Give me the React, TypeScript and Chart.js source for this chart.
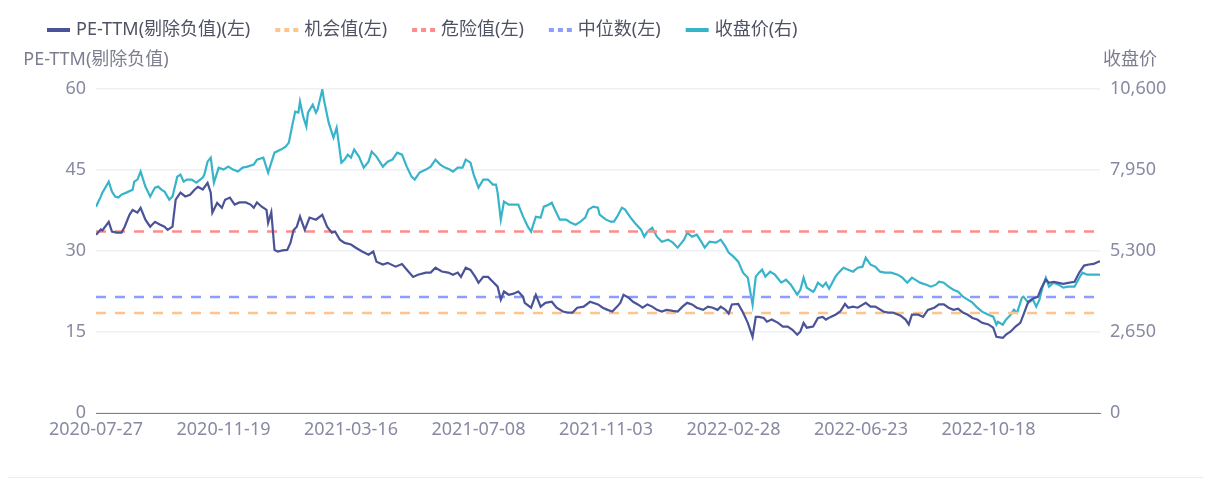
import React, { useEffect, useRef } from 'react';
import { Chart, registerables } from 'chart.js';

Chart.register(...registerables);

// ---- data ----
const tickDays = [0, 80, 160, 240, 320, 400, 480, 560];
const tickLabels = ['2020-07-27', '2020-11-19', '2021-03-16', '2021-07-08', '2021-11-03', '2022-02-28', '2022-06-23', '2022-10-18'];
const lastDay = 630;

const legendNames = ['PE-TTM(剔除负值)(左)', '机会值(左)', '危险值(左)', '中位数(左)', '收盘价(右)'];
const leftAxisName = 'PE-TTM(剔除负值)';
const rightAxisName = '收盘价';

const opportunityValue = 18.5;
const dangerValue = 33.6;
const medianValue = 21.5;

// [trading-day index, PE-TTM]
const pePoints: [number, number][] = [
  [0, 33.0], [3, 34.0], [4, 33.8], [8, 35.4], [10, 33.6], [13, 33.4], [16, 33.4], [18, 34.5], [21, 36.7], [23, 37.6],
  [26, 37.1], [28, 38.0], [31, 35.8], [34, 34.5], [37, 35.4], [40, 34.9], [43, 34.5], [45, 33.9], [48, 34.5], [50, 39.5],
  [53, 40.8], [56, 40.1], [59, 40.4], [62, 41.4], [64, 41.9], [67, 41.4], [70, 42.6], [72, 40.8], [73, 37.1], [76, 38.9],
  [79, 38.0], [81, 39.5], [84, 39.9], [87, 38.6], [90, 39.0], [94, 39.0], [97, 38.6], [99, 38.0], [101, 39.0], [104, 38.2],
  [107, 37.6], [108, 35.2], [110, 37.2], [112, 30.2], [114, 29.9], [117, 30.1], [120, 30.2], [122, 31.5], [124, 33.9], [126, 34.5],
  [128, 36.4], [131, 33.9], [134, 36.2], [138, 35.8], [142, 36.7], [145, 34.5], [148, 33.4], [150, 33.6], [153, 32.1], [156, 31.5],
  [160, 31.2], [163, 30.6], [167, 29.9], [171, 29.3], [174, 29.9], [176, 28.0], [180, 27.5], [183, 27.8], [188, 27.1], [192, 27.6],
  [196, 26.2], [199, 25.2], [202, 25.6], [207, 26.0], [210, 26.0], [213, 26.9], [217, 26.2], [221, 26.0], [224, 25.6], [227, 26.0],
  [229, 25.2], [232, 26.9], [235, 26.5], [238, 25.2], [240, 24.1], [243, 25.2], [246, 25.2], [249, 24.3], [252, 23.4], [254, 21.0],
  [256, 22.5], [259, 21.9], [262, 22.1], [265, 22.5], [268, 21.5], [269, 20.4], [273, 19.5], [276, 21.9], [279, 19.7], [282, 20.4],
  [286, 20.6], [289, 19.5], [293, 18.8], [296, 18.6], [299, 18.6], [302, 19.5], [306, 19.7], [310, 20.6], [315, 20.1], [318, 19.5],
  [321, 19.1], [324, 18.8], [327, 19.7], [329, 20.4], [331, 21.9], [334, 21.4], [337, 20.6], [340, 20.1], [343, 19.5], [346, 20.1],
  [349, 19.7], [352, 19.1], [355, 18.8], [358, 19.1], [362, 18.9], [365, 18.8], [368, 19.7], [371, 20.4], [374, 20.1], [377, 19.5],
  [381, 19.1], [384, 19.7], [387, 19.5], [390, 19.1], [392, 19.7], [395, 19.1], [397, 18.4], [399, 20.1], [403, 20.2], [406, 18.6],
  [409, 16.7], [412, 14.1], [414, 17.8], [416, 17.8], [419, 17.6], [421, 16.9], [424, 17.3], [428, 16.7], [431, 16.0], [434, 16.0],
  [437, 15.4], [440, 14.5], [442, 15.1], [444, 16.7], [446, 15.8], [450, 16.0], [453, 17.6], [456, 17.8], [458, 17.3], [461, 17.8],
  [464, 18.2], [467, 18.8], [470, 20.2], [472, 19.5], [475, 19.7], [478, 19.5], [483, 20.4], [486, 19.7], [489, 19.7], [494, 18.8],
  [497, 18.6], [500, 18.6], [505, 18.0], [508, 17.3], [510, 16.4], [512, 18.2], [516, 18.2], [519, 17.8], [522, 19.1], [526, 19.5],
  [529, 20.1], [532, 20.1], [535, 19.5], [538, 19.1], [541, 19.3], [544, 18.6], [547, 18.2], [550, 17.6], [553, 17.3], [556, 16.7],
  [560, 16.4], [563, 15.8], [565, 14.1], [569, 13.9], [571, 14.5], [574, 15.1], [577, 16.0], [580, 16.7], [582, 18.2], [585, 20.6],
  [588, 21.2], [591, 21.5], [593, 23.0], [596, 24.7], [598, 24.1], [601, 24.3], [604, 24.1], [607, 23.9], [610, 24.1], [614, 24.3],
  [617, 26.0], [620, 27.3], [623, 27.5], [626, 27.6], [629, 28.0], [630, 28.1],
];

// [trading-day index, close price]
const pricePoints: [number, number][] = [
  [0, 6750], [3, 7079], [4, 7210], [8, 7570], [10, 7243], [12, 7079], [14, 7047], [16, 7145], [19, 7210], [23, 7308],
  [24, 7570], [26, 7636], [28, 7898], [31, 7407], [34, 7079], [37, 7374], [39, 7407], [41, 7308], [43, 7243], [46, 6980],
  [48, 7079], [51, 7733], [53, 7799], [55, 7570], [57, 7636], [60, 7636], [63, 7537], [67, 7701], [68, 7799], [70, 8224],
  [72, 8355], [74, 7537], [77, 8028], [80, 7963], [83, 8061], [86, 7963], [89, 7898], [92, 8028], [95, 8061], [99, 8126],
  [101, 8289], [105, 8355], [108, 7865], [111, 8355], [112, 8518], [116, 8617], [119, 8715], [121, 8846], [123, 9369], [125, 9860],
  [127, 9827], [128, 10187], [130, 9696], [132, 9369], [133, 9827], [136, 10089], [138, 9827], [139, 9925], [142, 10580], [143, 10253],
  [146, 9500], [147, 9336], [149, 9009], [151, 9336], [154, 8191], [156, 8289], [158, 8453], [160, 8355], [162, 8617], [165, 8388],
  [168, 8028], [171, 8224], [173, 8551], [176, 8388], [180, 8061], [183, 8224], [186, 8289], [189, 8518], [192, 8453], [195, 8061],
  [198, 7733], [200, 7636], [203, 7865], [207, 7963], [210, 8061], [213, 8289], [216, 8126], [219, 8028], [222, 7963], [224, 7898],
  [227, 8028], [230, 8028], [232, 8289], [235, 8191], [237, 7799], [240, 7374], [243, 7636], [246, 7636], [249, 7472], [251, 7472],
  [252, 7210], [254, 6326], [256, 6914], [259, 6815], [262, 6815], [265, 6815], [268, 6423], [271, 6096], [273, 5932], [276, 6423],
  [279, 6390], [281, 6750], [284, 6815], [286, 6881], [288, 6652], [291, 6326], [295, 6326], [298, 6227], [301, 6161], [304, 6259],
  [307, 6390], [309, 6652], [312, 6750], [315, 6717], [316, 6488], [320, 6326], [323, 6259], [325, 6259], [327, 6423], [330, 6717],
  [332, 6652], [335, 6423], [338, 6227], [342, 5998], [344, 5769], [346, 5932], [349, 6063], [352, 5769], [355, 5605], [359, 5671],
  [362, 5573], [365, 5409], [369, 5671], [371, 5900], [374, 5769], [377, 5834], [379, 5671], [382, 5409], [385, 5605], [389, 5573],
  [392, 5671], [395, 5442], [397, 5246], [400, 5115], [403, 4951], [406, 4591], [409, 4427], [412, 3544], [414, 4460], [416, 4591],
  [418, 4689], [420, 4460], [423, 4623], [426, 4525], [430, 4264], [433, 4362], [436, 4198], [440, 3871], [442, 4034], [444, 4427],
  [446, 4100], [450, 3969], [451, 4034], [453, 4264], [456, 4133], [458, 4264], [460, 4067], [464, 4460], [466, 4591], [469, 4754],
  [472, 4689], [475, 4623], [478, 4754], [481, 4787], [483, 5082], [486, 4852], [489, 4787], [492, 4623], [495, 4591], [499, 4591],
  [503, 4525], [506, 4427], [509, 4264], [512, 4427], [516, 4296], [517, 4264], [521, 4198], [524, 4133], [527, 4198], [529, 4296],
  [532, 4264], [535, 4133], [538, 4034], [541, 3969], [544, 3806], [547, 3707], [550, 3609], [553, 3446], [556, 3315], [560, 3217],
  [563, 3151], [565, 2889], [566, 2987], [569, 2889], [571, 3053], [574, 3217], [576, 3380], [578, 3282], [581, 3773], [582, 3806],
  [585, 3609], [588, 3707], [590, 3478], [592, 3707], [594, 4133], [596, 4427], [598, 4133], [601, 4264], [604, 4198], [607, 4100],
  [610, 4133], [614, 4133], [617, 4427], [619, 4591], [622, 4525], [626, 4525], [629, 4525], [630, 4520],
];

const FONT = '"Noto Sans", "Noto Sans CJK SC", sans-serif';
const C_PE = '#4a5397';
const C_PRICE = '#38b4ca';
const C_OPP = '#ffc48c';
const C_DANGER = '#ff8c8c';
const C_MEDIAN = '#8c9cff';
const C_TICK = '#878aa2';
const C_LEGEND = '#4f5263';

export default function App() {
  const ref = useRef<HTMLCanvasElement | null>(null);

  useEffect(() => {
    if (!ref.current) return;
    const flat = (v: number) => [{ x: 0, y: v }, { x: lastDay, y: v }];
    const toXY = (pts: [number, number][]) => pts.map(([x, y]) => ({ x, y }));

    const legendPlugin = {
      id: 'customLegend',
      afterDraw(chart: any) {
        const ctx = chart.ctx as CanvasRenderingContext2D;
        ctx.save();
        ctx.font = `18px ${FONT}`;
        ctx.textBaseline = 'middle';
        ctx.textAlign = 'left';
        let x = 39;
        const y = 22;
        chart.data.datasets.forEach((ds: any) => {
          ctx.beginPath();
          ctx.strokeStyle = ds.borderColor;
          ctx.lineWidth = 4;
          ctx.lineCap = 'butt';
          ctx.setLineDash(ds.borderDash ? [5, 4] : []);
          ctx.moveTo(x, y);
          ctx.lineTo(x + 23, y);
          ctx.stroke();
          ctx.setLineDash([]);
          x += 29;
          ctx.fillStyle = C_LEGEND;
          ctx.fillText(ds.label, x, y);
          x += ctx.measureText(ds.label).width + 25;
        });
        ctx.fillStyle = '#7c7e90';
        ctx.textAlign = 'center';
        ctx.fillText(leftAxisName, chart.chartArea.left, 52);
        ctx.textAlign = 'left';
        ctx.fillText(rightAxisName, chart.chartArea.right + 3, 52);
        ctx.restore();
      },
    };

    const chart = new Chart(ref.current, {
      type: 'line',
      data: {
        datasets: [
          { label: legendNames[0], data: toXY(pePoints), borderColor: C_PE, borderWidth: 2.2, yAxisID: 'y' },
          { label: legendNames[1], data: flat(opportunityValue), borderColor: C_OPP, borderWidth: 2.5, borderDash: [10, 9], yAxisID: 'y' },
          { label: legendNames[2], data: flat(dangerValue), borderColor: C_DANGER, borderWidth: 2.5, borderDash: [10, 9], yAxisID: 'y' },
          { label: legendNames[3], data: flat(medianValue), borderColor: C_MEDIAN, borderWidth: 2.5, borderDash: [10, 9], yAxisID: 'y' },
          { label: legendNames[4], data: toXY(pricePoints), borderColor: C_PRICE, borderWidth: 2.2, yAxisID: 'y1' },
        ] as any,
      },
      options: {
        responsive: false,
        animation: false,
        devicePixelRatio: 1,
        layout: { padding: { top: 81, left: 0, right: 0, bottom: 0 } },
        elements: { point: { radius: 0 }, line: { tension: 0, fill: false } },
        font: { family: FONT, size: 18 } as any,
        plugins: { legend: { display: false }, tooltip: { enabled: false } },
        scales: {
          x: {
            type: 'linear',
            min: 0,
            max: lastDay,
            grid: { display: false, drawTicks: false },
            border: { display: true, color: '#777b9e', width: 1 },
            afterBuildTicks: (scale: any) => { scale.ticks = tickDays.map((v) => ({ value: v })); },
            afterFit: (scale: any) => { scale.height = 65; },
            ticks: {
              autoSkip: false,
              maxRotation: 0,
              padding: 6,
              color: C_TICK,
              font: { family: FONT, size: 18 },
              callback: (v: any) => { const i = tickDays.indexOf(Number(v)); return i >= 0 ? tickLabels[i] : ''; },
            },
          },
          y: {
            position: 'left',
            min: 0,
            max: 60,
            grid: { color: '#eef0f6', lineWidth: 1.5, drawTicks: false },
            border: { display: false },
            afterFit: (scale: any) => { scale.width = 88; },
            ticks: { stepSize: 15, padding: 10, color: C_TICK, font: { family: FONT, size: 18 } },
          },
          y1: {
            position: 'right',
            min: 0,
            max: 10600,
            grid: { display: false, drawOnChartArea: false, drawTicks: false },
            border: { display: false },
            afterFit: (scale: any) => { scale.width = 103; },
            ticks: { stepSize: 2650, padding: 10, color: C_TICK, font: { family: FONT, size: 18 } },
          },
        },
      } as any,
      plugins: [legendPlugin],
    });
    return () => chart.destroy();
  }, []);

  return (
    <div style={{ width: 1211, height: 470, marginLeft: -8, paddingLeft: 8, boxSizing: 'border-box', borderBottom: '1px solid #ebecf3' }}>
      <canvas ref={ref} width={1195} height={470} style={{ display: 'block', width: 1195, height: 470 }} />
    </div>
  );
}
